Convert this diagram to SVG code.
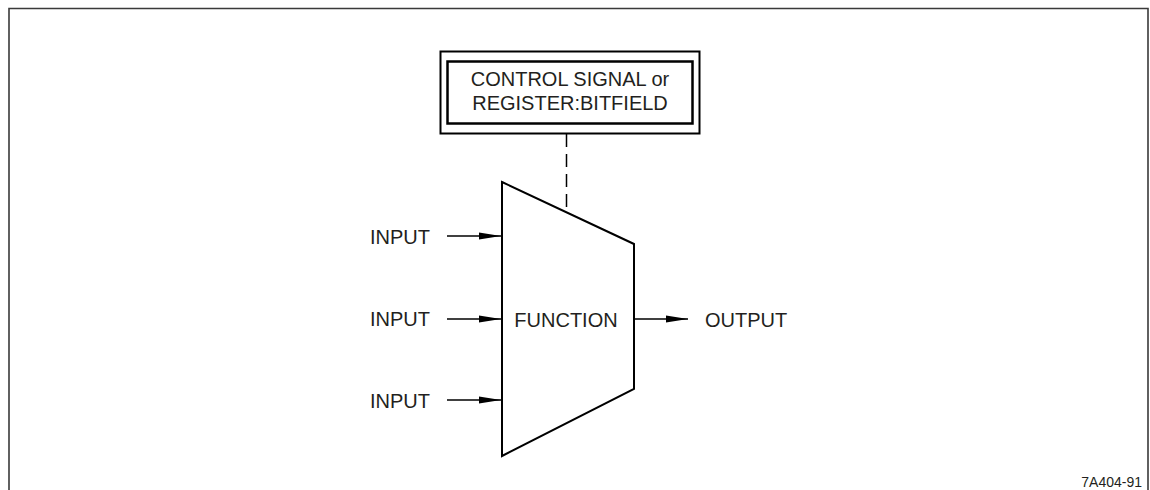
<svg xmlns="http://www.w3.org/2000/svg" width="1150" height="490" viewBox="0 0 1150 490">
<defs>
<style>
text{font-family:"Liberation Sans",Arial,sans-serif;fill:#231f20;}
.lbl{font-size:20px;}
.ln{stroke:#000;stroke-width:1.5;fill:none;}
</style>
<marker id="ah" markerWidth="22" markerHeight="8" refX="22" refY="4" orient="auto" markerUnits="userSpaceOnUse">
<path d="M0,0.5 L22,4 L0,7.5 Z" fill="#000"/>
</marker>
</defs>
<rect width="1150" height="490" fill="#fff"/>
<g id="frame">
<path d="M9,491 V8.5 H1148 V491" fill="none" stroke="#3a3a3a" stroke-width="1.6"/>
</g>
<g id="control">
<rect x="440.5" y="51.5" width="259" height="82" fill="none" stroke="#000" stroke-width="2"/>
<rect x="447.5" y="61.5" width="245" height="62" fill="none" stroke="#000" stroke-width="2.5"/>
<text class="lbl" x="570" y="86" text-anchor="middle">CONTROL SIGNAL or</text>
<text class="lbl" x="570" y="110" text-anchor="middle">REGISTER:BITFIELD</text>
</g>
<g id="function">
<polygon points="502,182 634,244 634,389 502,456" fill="none" stroke="#000" stroke-width="2"/>
<text class="lbl" x="566" y="327" text-anchor="middle">FUNCTION</text>
</g>
<g id="inputs">
<text class="lbl" x="370" y="244">INPUT</text>
<text class="lbl" x="370" y="326">INPUT</text>
<text class="lbl" x="370" y="408">INPUT</text>
</g>
<g id="output">
<text class="lbl" x="705" y="327">OUTPUT</text>
</g>
<g id="connectors">
<line class="ln" x1="566.5" y1="134" x2="566.5" y2="211" stroke-dasharray="13,7"/>
<line class="ln" x1="447" y1="236" x2="501" y2="236" marker-end="url(#ah)"/>
<line class="ln" x1="447" y1="319" x2="501" y2="319" marker-end="url(#ah)"/>
<line class="ln" x1="447" y1="400" x2="501" y2="400" marker-end="url(#ah)"/>
<line class="ln" x1="635" y1="319" x2="688" y2="319" marker-end="url(#ah)"/>
</g>
<text x="1142" y="487" font-size="14" text-anchor="end">7A404-91</text>
</svg>
